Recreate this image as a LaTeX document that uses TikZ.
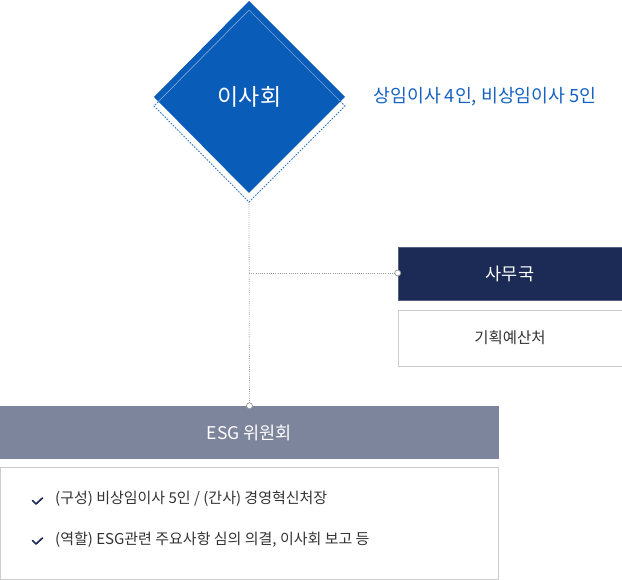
\documentclass[tikz,border=0pt]{standalone}
\usepackage{fontspec}
\setmainfont{Noto Sans CJK KR}
\usetikzlibrary{calc}
\definecolor{boardblue}{HTML}{0A5CB9}
\definecolor{labelblue}{HTML}{1562C2}
\definecolor{navy}{HTML}{1B2B55}
\definecolor{slate}{HTML}{7D859C}
\definecolor{boxgray}{HTML}{CCCCCC}
\definecolor{txt}{HTML}{333333}
\tikzset{
  dotline/.style={draw=gray!80, line width=0.8pt, dash pattern=on 0.8pt off 1.4pt},
  joint/.style={circle, draw=gray!80, fill=white, line width=0.7pt, inner sep=0pt, minimum size=6pt},
  boxtext/.style={font=\fontsize{15}{18}\selectfont, text=txt},
  checkmk/.style={draw=navy, line width=1.7pt, line cap=round, line join=round},
}
\begin{document}
\begin{tikzpicture}[x=1pt,y=1pt]
\useasboundingbox (0,0) rectangle (622,-580);
% diamond: shifted dashed outline
\coordinate (dT) at (249,-1);
\coordinate (dL) at (154,-97);
\coordinate (dR) at (345,-97);
\coordinate (dB) at (249,-193);
\draw[boardblue!85!white, line width=0.9pt, dash pattern=on 1.6pt off 1.4pt]
  ($(dT)+(0,-9)$) -- ($(dR)+(0,-9)$) -- ($(dB)+(0,-9)$) -- ($(dL)+(0,-9)$) -- cycle;
\fill[boardblue] (dT) -- (dR) -- (dB) -- (dL) -- cycle;
\begin{scope}
\clip (dT) -- (dR) -- (dB) -- (dL) -- cycle;
\draw[white!45!boardblue, line width=0.7pt]
  ($(dT)+(0,-9)$) -- ($(dR)+(0,-9)$) -- ($(dB)+(0,-9)$) -- ($(dL)+(0,-9)$) -- cycle;
\end{scope}
\node[text=white, font=\fontsize{23}{27}\selectfont] (board) at (249.5,-97) {이사회};
\node[text=labelblue, font=\fontsize{18.3}{22}\selectfont] (boardlabel) at (485,-97) {상임이사 4인, 비상임이사 5인};
\coordinate (dbot) at (249,-202);

% secretariat
\node[fill=navy, draw=slate!60!navy, line width=0.6pt, minimum width=224pt, minimum height=53pt, inner sep=0pt,
  text=white, font=\fontsize{17.5}{20}\selectfont] (sec) at (510,-274) {사무국};
\node[fill=white, draw=boxgray, line width=0.8pt, minimum width=224pt, minimum height=56pt, inner sep=0pt,
  font=\fontsize{15.5}{18}\selectfont, text=txt] (plan) at (510,-338) {기획예산처};

% ESG committee
\node[fill=slate, minimum width=499pt, minimum height=53pt, inner sep=0pt,
  text=white, font=\fontsize{17.5}{20}\selectfont] (esg) at (249.5,-432.5) {ESG 위원회};
\node[fill=white, draw=boxgray, line width=0.8pt, minimum width=498pt, minimum height=112pt, inner sep=0pt] (detail) at (249.5,-523.5) {};

% connectors
\coordinate (branch) at (249,-273);
\draw[dotline] (dbot) -- (esg.north);
\draw[dotline] (branch) -- (sec.west |- branch);
\node[joint] (j1) at (sec.west |- branch) {};
\node[joint] (j2) at (esg.north) {};

% checklist
\draw[checkmk] (32.5,-500.5) -- (36,-504) -- (42.5,-498);
\draw[checkmk] (32.5,-540.5) -- (36,-544) -- (42.5,-538);
\node[boxtext, anchor=west, inner sep=0pt] (item1) at (55,-499) {(구성) 비상임이사 5인 / (간사) 경영혁신처장};
\node[boxtext, anchor=west, inner sep=0pt] (item2) at (55,-540) {(역할) ESG관련 주요사항 심의 의결, 이사회 보고 등};
\end{tikzpicture}
\end{document}
